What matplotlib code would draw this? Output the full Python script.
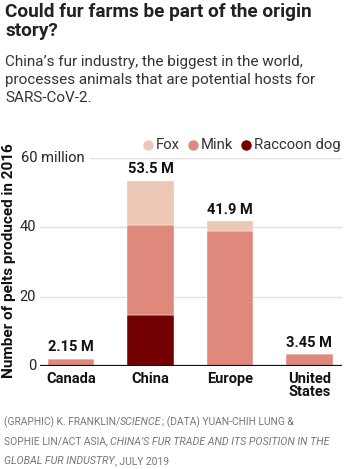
import matplotlib
matplotlib.use("Agg")
import matplotlib.pyplot as plt
import numpy as np
from matplotlib.offsetbox import TextArea, HPacker, AnchoredOffsetbox

plt.rcParams['font.family'] = ['Roboto', 'DejaVu Sans']

categories = ["Canada", "China", "Europe", "United\nStates"]
raccoon = [0.0, 14.6, 0.0, 0.0]
mink = [2.15, 26.0, 39.0, 3.45]
fox = [0.0, 12.9, 2.9, 0.0]
totals = ["2.15 M", "53.5 M", "41.9 M", "3.45 M"]
yticks = [0, 20, 40, 60]
ytick_labels = ["0", "20", "40", "60 million"]

C_FOX = "#EDC7B6"
C_MINK = "#DE897C"
C_RAC = "#730000"

W, H = 353, 469
fig = plt.figure(figsize=(W / 100, H / 100), dpi=100)

def fx(px):
    return px / W

def fy(py):
    return 1 - py / H

ax_l, ax_r, ax_t, ax_b = 40, 342, 158, 366
ax = fig.add_axes([fx(ax_l), fy(ax_b), fx(ax_r - ax_l), (ax_b - ax_t) / H])

x = np.arange(len(categories))
bw = 0.585
r = np.array(raccoon)
m = np.array(mink)
f = np.array(fox)
ax.bar(x, r, bw, color=C_RAC, zorder=3, edgecolor="white", linewidth=0.3)
ax.bar(x, m, bw, bottom=r, color=C_MINK, zorder=3, edgecolor="white", linewidth=0.3)
ax.bar(x, f, bw, bottom=r + m, color=C_FOX, zorder=3, edgecolor="white", linewidth=0.3)

ax.set_xlim(-0.39, 3.41)
ax.set_ylim(0, 60)
for s in ax.spines.values():
    s.set_visible(False)
ax.set_yticks([])
ax.set_xticks(x)
ax.set_xticklabels(categories, fontsize=10.5, fontweight="bold", color="#111111", linespacing=0.95)
ax.tick_params(axis="x", length=0, pad=4)
ax.axhline(0, color="#111111", lw=1.6, zorder=4)

# gridlines
for t in yticks[1:]:
    x0 = 0.0 if t != 60 else (90 - ax_l) / (ax_r - ax_l)
    ax.axhline(t, xmin=x0, xmax=1, color="#E0E0E0", lw=1.0, zorder=1)

# tick labels
for t, lab in zip(yticks, ytick_labels):
    ypx = ax_b - t / 60 * (ax_b - ax_t)
    if t == 60:
        fig.text(fx(21), fy(ypx), lab, ha="left", va="center", fontsize=10.5, color="#222233")
    else:
        fig.text(fx(36), fy(ypx), lab, ha="right", va="center", fontsize=10.5, color="#222233")

# value labels
tot = r + m + f
for xi, tv, lab in zip(x, tot, totals):
    ax.annotate(lab, (xi, tv), xytext=(0, 3), textcoords="offset points",
                ha="center", va="bottom", fontsize=10.5, fontweight="bold", color="#111111")

# y label
fig.text(fx(9), fy(261), "Number of pelts produced in 2016", rotation=90, ha="center", va="center",
         fontsize=11, fontweight="bold", color="#111111")

# legend
leg_y = fy(145)
for mxp, txp, lab, col in [(148, 156, "Fox", C_FOX), (193, 201, "Mink", C_MINK), (246, 254, "Raccoon dog", C_RAC)]:
    fig.lines.append(plt.Line2D([fx(mxp)], [leg_y], marker="o", markersize=6.5, color=col,
                                transform=fig.transFigure, linestyle="none"))
    fig.text(fx(txp), leg_y, lab, ha="left", va="center", fontsize=10.7, color="#333333")

# title & subtitle
fig.text(fx(5), fy(3), "Could fur farms be part of the origin\nstory?", ha="left", va="top",
         fontsize=13.7, fontweight="bold", color="#222222", linespacing=1.05)
fig.text(fx(5), fy(55), "China’s fur industry, the biggest in the world,\nprocesses animals that are potential hosts for\nSARS-CoV-2.",
         ha="left", va="top", fontsize=11, color="#333333", linespacing=1.35)

# footer
def line_boxes(parts):
    boxes = []
    for txt, style in parts:
        size = 7.7 if style == "italic" else 7.35
        boxes.append(TextArea(txt, textprops=dict(fontsize=size, color="#777777", fontstyle=style)))
    return HPacker(children=boxes, align="baseline", pad=0, sep=0)

lines = [
    [("(GRAPHIC) K. FRANKLIN/", "normal"), ("SCIENCE", "italic"), ("; (DATA) YUAN-CHIH LUNG &", "normal")],
    [("SOPHIE LIN/ACT ASIA, ", "normal"), ("CHINA’S FUR TRADE AND ITS POSITION IN THE", "italic")],
    [("GLOBAL FUR INDUSTRY", "italic"), (", JULY 2019", "normal")],
]
for i, parts in enumerate(lines):
    ypx = 422 + i * 19.5
    ab = AnchoredOffsetbox(loc="center left", child=line_boxes(parts), pad=0, frameon=False,
                           bbox_to_anchor=(fx(4), fy(ypx)), bbox_transform=fig.transFigure, borderpad=0)
    fig.add_artist(ab)

fig.savefig("out.png", dpi=100)
